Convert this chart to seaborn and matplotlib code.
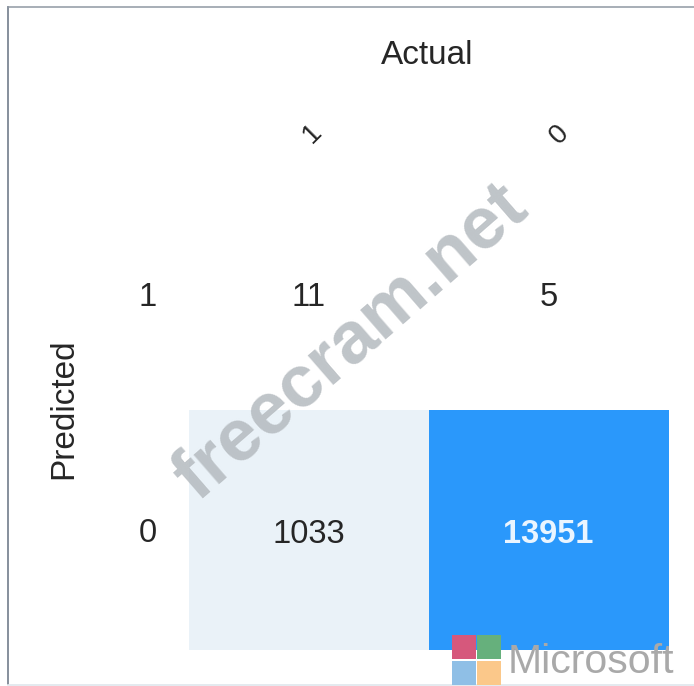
import matplotlib
matplotlib.use("Agg")
import matplotlib.pyplot as plt
import seaborn as sns
import pandas as pd
from matplotlib.colors import LinearSegmentedColormap
from matplotlib.patches import Rectangle
from matplotlib.transforms import ScaledTranslation

# confusion matrix values
actual_labels = ["1", "0"]
predicted_labels = ["1", "0"]
row_1 = [11, 5]
row_0 = [1033, 13951]

df = pd.DataFrame([row_1, row_0], index=predicted_labels, columns=actual_labels)

W, H = 694, 686
plt.rcParams['font.family'] = ['Liberation Sans', 'DejaVu Sans']
text_col = "#262626"

# white -> pale blue -> strong blue
cmap = LinearSegmentedColormap.from_list(
    "cm_blue", [(0, "#ffffff"), (0.074, "#e9f1f8"), (1, "#2a98fb")])

fig = plt.figure(figsize=(W / 100, H / 100), dpi=100)
ax = fig.add_axes([189 / W, 1 - 650 / H, 479.5 / W, 480 / H])

sns.heatmap(df, annot=True, fmt="d", cmap=cmap, vmin=0, cbar=False, ax=ax,
            annot_kws={"fontsize": 23.5})
for t in ax.texts:
    x, y = t.get_position()
    # the labels sit a bit under the cell centre in the screenshot
    t.set_position((x, y + (0.033 if y < 1 else 0.017)))
    if t.get_text() == "13951":
        t.set_color("#eaf5ff")
        t.set_fontweight("bold")
    else:
        t.set_color(text_col)

ax.xaxis.tick_top()
ax.tick_params(length=0, labelcolor=text_col)
ax.tick_params(axis="y", labelsize=23.5, pad=23)
ax.tick_params(axis="x", labelsize=20, pad=26)
plt.setp(ax.get_xticklabels(), rotation=45, ha="center", va="center")
plt.setp(ax.get_yticklabels(), rotation=0)


def nudge(label, dx, dy):
    # shift a tick label by screen pixels
    label.set_transform(label.get_transform() + ScaledTranslation(dx / 100, -dy / 100, fig.dpi_scale_trans))


xlabs = ax.get_xticklabels()
nudge(xlabs[0], 4, 0)
nudge(xlabs[1], 11, 1)
ylabs = ax.get_yticklabels()
nudge(ylabs[0], 0, 8)
nudge(ylabs[1], 0, 3)

fig.text(427 / W, 1 - 56 / H, "Actual", fontsize=24, color=text_col, ha="center", va="center")
fig.text(64 / W, 1 - 409 / H, "Predicted", fontsize=24, color=text_col, ha="center", va="center", rotation=90)

# screenshot frame
fig.add_artist(plt.Line2D([8 / W, 8 / W], [2 / H, 1 - 7 / H], color="#7d8794", lw=1.3))
fig.add_artist(plt.Line2D([8 / W, 1], [1 - 7 / H, 1 - 7 / H], color="#8f98a3", lw=1.1))
fig.add_artist(plt.Line2D([8 / W, 1], [1 / H, 1 / H], color="#dfe6ec", lw=1.2))

# watermark
fig.text(351 / W, 1 - 342 / H, "freecram.net", fontsize=53, fontweight="bold", color="#b4babf",
         alpha=0.85, rotation=41, rotation_mode="anchor", ha="center", va="center", zorder=5)

# logo
for (x0, y0, c) in [(452, 635, "#d6587c"), (477, 635, "#66b07c"), (452, 661, "#8fbfe6"), (477, 661, "#fbc88a")]:
    fig.add_artist(Rectangle((x0 / W, 1 - (y0 + 24) / H), 24 / W, 24 / H, transform=fig.transFigure,
                             fc=c, ec="none", zorder=6))
fig.text(508 / W, 1 - 662 / H, "Microsoft", fontsize=29.5, color="#a9a9a9", ha="left", va="center", zorder=6)

fig.savefig("out.png", dpi=100)
